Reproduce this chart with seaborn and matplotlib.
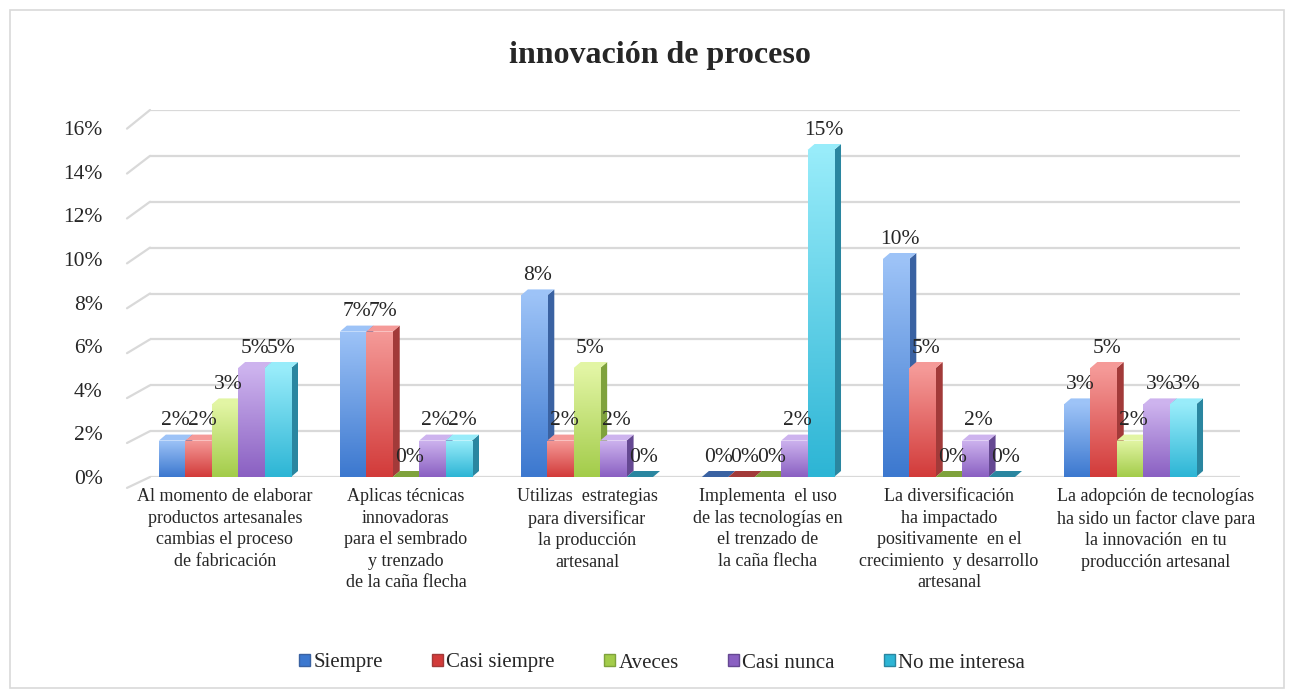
#Making imports
import numpy as np
import pandas as pd
import matplotlib.pyplot as plt
import matplotlib.transforms as mtransforms
import seaborn as sns
from matplotlib.patches import Polygon, Rectangle, Patch
from matplotlib.colors import LinearSegmentedColormap

#Chart data (percent values)
categories = [
    "Al momento de elaborar\nproductos artesanales\ncambias el proceso\nde fabricación",
    "Aplicas técnicas\ninnovadoras\npara el sembrado\ny trenzado\nde la caña flecha",
    "Utilizas  estrategias\npara diversificar\nla producción\nartesanal",
    "Implementa  el uso\nde las tecnologías en\nel trenzado de\nla caña flecha",
    "La diversificación\nha impactado\npositivamente  en el\ncrecimiento  y desarrollo\nartesanal",
    "La adopción de tecnologías\nha sido un factor clave para\nla innovación  en tu\nproducción artesanal",
]
series = ["Siempre", "Casi siempre", "Aveces", "Casi nunca", "No me interesa"]
siempre = [1.67, 6.67, 8.33, 0, 10, 3.33]
casi_siempre = [1.67, 6.67, 1.67, 0, 5, 5]
aveces = [3.33, 0, 5, 0, 0, 1.67]
casi_nunca = [5, 1.67, 1.67, 1.67, 1.67, 3.33]
no_me_interesa = [5, 1.67, 0, 15, 0, 3.33]
yticks = [0, 2, 4, 6, 8, 10, 12, 14, 16]

#Colours: (light top, dark bottom, side face)
light = ["#9DC3F7", "#F59A98", "#E2F5A4", "#CDB3EE", "#98ECFA"]
dark = ["#3C78CF", "#D23B3A", "#A3CC4A", "#8A60C2", "#2DB5D5"]
side = ["#3A62A2", "#A23A39", "#7FA23C", "#654892", "#2A86A0"]

#Long table for seaborn
rows = []
for name, vals in zip(series, [siempre, casi_siempre, aveces, casi_nunca, no_me_interesa]):
    for cat, v in zip(categories, vals):
        rows.append({"categoria": cat, "serie": name, "valor": v})
df = pd.DataFrame(rows)

sns.set_style("white")
plt.rcParams["font.family"] = ["Liberation Serif", "DejaVu Serif"]

fig = plt.figure(figsize=(12.91, 6.94), dpi=100)
ax = fig.add_axes([150 / 1291, 217 / 694, 1090 / 1291, 367 / 694])

sns.barplot(data=df, x="categoria", y="valor", hue="serie", hue_order=series,
            palette=dark, width=0.73, saturation=1, ax=ax, legend=False)

xlim = (-0.414, 5.608)
ylim = (0, 367 / 21.8)   # bars scale: 21.8 px per percent
wall = ylim[1] / 16      # back wall gridlines are drawn a bit higher (perspective)
dx = 7 / 181             # depth of the fake 3D, in category units
dy = 6 / 21.8            # depth of the fake 3D, in percent units

#Fake 3D bars: gradient front, darker side and lighter top
grad = np.linspace(0, 1, 100).reshape(-1, 1)
for i, cont in enumerate(ax.containers):
    cmap = LinearSegmentedColormap.from_list("c%d" % i, [dark[i], light[i]])
    for bar in cont:
        x, w, h = bar.get_x(), bar.get_width(), bar.get_height()
        bar.set_facecolor("none")
        bar.set_edgecolor("none")
        ax.add_patch(Polygon([(x + w, 0), (x + w + dx, dy), (x + w + dx, h + dy), (x + w, h)],
                             closed=True, facecolor=side[i], edgecolor="none", zorder=2))
        ax.add_patch(Polygon([(x, h), (x + w, h), (x + w + dx, h + dy), (x + dx, h + dy)],
                             closed=True, facecolor=light[i] if h > 0 else side[i],
                             edgecolor="none", zorder=3))
        if h > 0:
            im = ax.imshow(grad, extent=[x, x + w, 0, h], aspect="auto", cmap=cmap,
                           origin="lower", zorder=4, interpolation="bilinear")
            im.set_clip_path(bar)
        ax.annotate("{:.0f}%".format(h), (x + w / 2 + dx / 2, h + dy), xytext=(0, 3),
                    textcoords="offset points", ha="center", va="bottom",
                    fontsize=15.5, zorder=6)

ax.set_xlim(*xlim)
ax.set_ylim(*ylim)

#Back wall gridlines with a small perspective stub on the left
for v in yticks:
    ax.plot([xlim[0], xlim[1]], [v * wall, v * wall], color="#D9D9D9", lw=1.6, zorder=0)
    ax.plot([xlim[0] - 23 / 181, xlim[0]], [v - 0.5 + v * 0.03, v * wall], color="#D9D9D9",
            lw=1.6, zorder=0, clip_on=False)

ax.set_yticks(yticks)
ax.set_yticklabels(["{}%".format(v) for v in yticks], fontsize=15.5)
offset = mtransforms.ScaledTranslation(0, -5 / 100, fig.dpi_scale_trans)
for lab in ax.get_yticklabels():
    lab.set_transform(lab.get_transform() + offset)
ax.tick_params(axis="y", length=0, pad=34)
ax.tick_params(axis="x", length=0, pad=8, labelsize=13)
for lab in ax.get_xticklabels():
    lab.set_linespacing(1.35)
#last category label sits a little to the right in the original
last = ax.get_xticklabels()[-1]
last.set_transform(last.get_transform() +
                   mtransforms.ScaledTranslation(26 / 100, 0, fig.dpi_scale_trans))
ax.set_xlabel("")
ax.set_ylabel("")
sns.despine(ax=ax, left=True, bottom=True)

#Title
fig.text(660 / 1291, 1 - 55 / 694, "innovación de proceso", ha="center", va="center",
         fontsize=23, fontweight="bold")

#Legend
handles = [Patch(facecolor=dark[i], edgecolor=side[i], label=series[i]) for i in range(5)]
fig.legend(handles=handles, loc="center", bbox_to_anchor=(662 / 1291, 1 - 663 / 694),
           ncol=5, frameon=False, fontsize=15, handlelength=0.55, handleheight=0.55,
           handletextpad=0.15, columnspacing=2.35)

#Outer chart border
fig.patches.append(Rectangle((10 / 1291, 6 / 694), 1274 / 1291, 678 / 694,
                             transform=fig.transFigure, fill=False,
                             edgecolor="#D9D9D9", lw=1.2))

fig.savefig("out.png", dpi=100)
